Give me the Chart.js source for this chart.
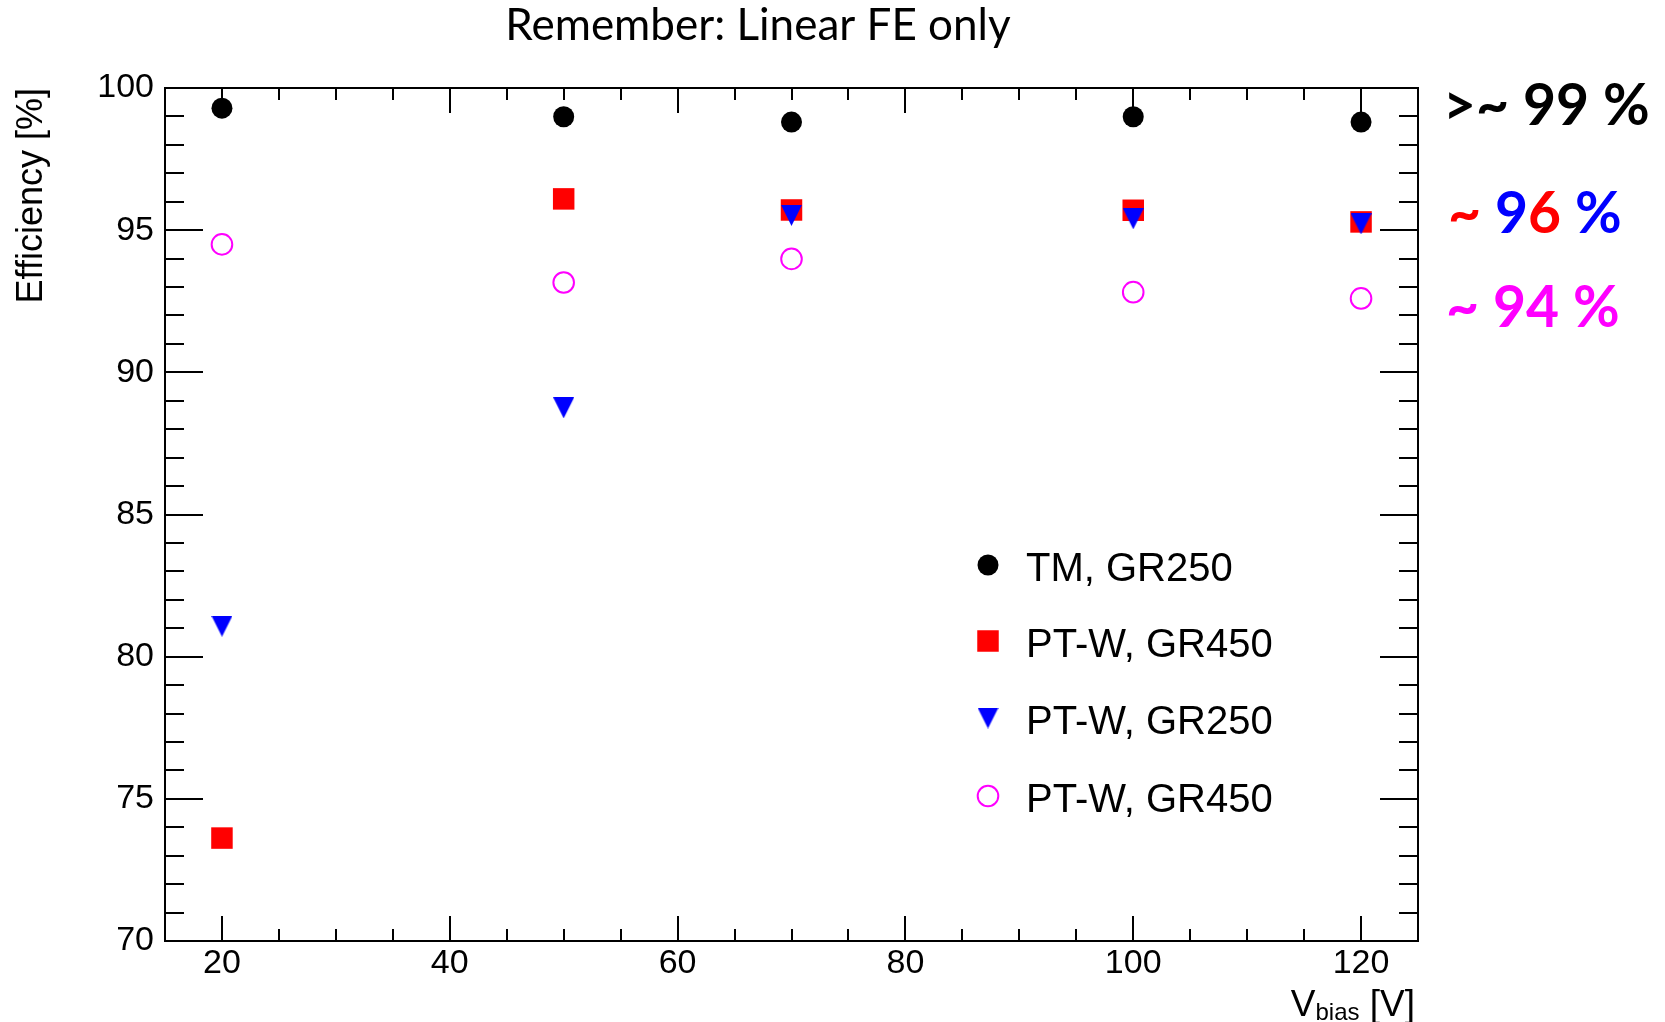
<!DOCTYPE html>
<html>
<head>
<meta charset="utf-8">
<title>Efficiency vs Vbias</title>
<script src="https://cdn.jsdelivr.net/npm/chart.js@4.4.1/dist/chart.umd.min.js"></script>
<style>
  html, body { margin: 0; padding: 0; background: #fff; }
  #wrap { width: 1665px; height: 1022px; }
</style>
</head>
<body>
<div id="wrap"><canvas id="chart" width="1665" height="1022"></canvas></div>
<script>
// bias voltage [V]
const vbias = [20, 50, 70, 100, 120];

// efficiency [%] per sample
const effTmGr250 = [99.29, 98.99, 98.80, 98.99, 98.80];
const effPtwGr450 = [73.62, 96.10, 95.71, 95.70, 95.29];
const effPtwGr250 = [81.07, 88.75, 95.52, 95.40, 95.22];
const effPtwGr450open = [94.50, 93.16, 93.99, 92.82, 92.60];

const seriesLabels = ['TM, GR250', 'PT-W, GR450', 'PT-W, GR250', 'PT-W, GR450'];

const xTickLabels = [20, 40, 60, 80, 100, 120];
const yTickLabels = [70, 75, 80, 85, 90, 95, 100];

const SANS = '"Liberation Sans", Arial, Helvetica, sans-serif';

// ROOT style "triangle down" marker, centred on its bounding box
function makeTriangleDown(size, color) {
  const c = document.createElement('canvas');
  c.width = size;
  c.height = size;
  const g = c.getContext('2d');
  g.fillStyle = color;
  g.beginPath();
  g.moveTo(0, 0);
  g.lineTo(size, 0);
  g.lineTo(size / 2, size);
  g.closePath();
  g.fill();
  return c;
}

const toPoints = (ys) => ys.map((y, i) => ({ x: vbias[i], y }));

// frame + inward ROOT-like ticks on all four sides
const frameAndTicks = {
  id: 'frameAndTicks',
  beforeDatasetsDraw(chart) {
    const { ctx, chartArea: a, scales: { x, y } } = chart;
    ctx.save();
    ctx.strokeStyle = '#000';
    ctx.lineWidth = 2;
    ctx.beginPath();
    for (let v = 15; v <= 125; v += 5) {
      const px = Math.round(x.getPixelForValue(v));
      const len = v % 20 === 0 ? 25 : 12;
      ctx.moveTo(px, a.bottom);
      ctx.lineTo(px, a.bottom - len);
      ctx.moveTo(px, a.top);
      ctx.lineTo(px, a.top + len);
    }
    for (let v = 70; v <= 100; v += 1) {
      const py = Math.round(y.getPixelForValue(v));
      const len = v % 5 === 0 ? 38 : 19;
      ctx.moveTo(a.left, py);
      ctx.lineTo(a.left + len, py);
      ctx.moveTo(a.right, py);
      ctx.lineTo(a.right - len, py);
    }
    ctx.stroke();
    ctx.strokeRect(a.left, a.top, a.right - a.left, a.bottom - a.top);
    ctx.restore();
  }
};

// titles, legend, side notes
const textLayer = {
  id: 'textLayer',
  afterDraw(chart) {
    const { ctx, chartArea: a } = chart;
    ctx.save();
    ctx.fillStyle = '#000';

    // slide title
    ctx.font = '44px Lato, "Open Sans", sans-serif';
    ctx.textAlign = 'center';
    ctx.textBaseline = 'alphabetic';
    ctx.fillText('Remember: Linear FE only', 758, 40);

    // y title
    ctx.save();
    ctx.translate(42, a.top);
    ctx.rotate(-Math.PI / 2);
    ctx.font = '36px ' + SANS;
    ctx.textAlign = 'right';
    ctx.fillText('Efficiency [%]', 0, 0);
    ctx.restore();

    // x title: V_bias [V]
    ctx.textAlign = 'left';
    const mainF = '37px ' + SANS, subF = '24px ' + SANS;
    ctx.font = mainF;
    const wV = ctx.measureText('V').width;
    const wUnit = ctx.measureText(' [V]').width;
    ctx.font = subF;
    const wSub = ctx.measureText('bias').width;
    let xt = a.right - 3 - (wV + wSub + wUnit);
    ctx.font = mainF;
    ctx.fillText('V', xt, 1016);
    xt += wV;
    ctx.font = subF;
    ctx.fillText('bias', xt, 1020);
    xt += wSub;
    ctx.font = mainF;
    ctx.fillText(' [V]', xt, 1016);

    // legend
    const lx = 988, ly = [565, 641, 718, 796];
    chart.data.datasets.forEach((ds, i) => {
      ctx.fillStyle = ds.backgroundColor;
      ctx.strokeStyle = ds.borderColor;
      ctx.lineWidth = ds.borderWidth;
      Chart.helpers.drawPoint(ctx, {
        pointStyle: ds.pointStyle,
        radius: ds.pointRadius,
        rotation: 0,
        borderWidth: ds.borderWidth
      }, lx, ly[i]);
      ctx.fillStyle = '#000';
      ctx.font = '40px ' + SANS;
      ctx.fillText(seriesLabels[i], 1026, ly[i] + 16);
    });

    // side notes
    ctx.font = 'bold 57px Lato, "Open Sans", sans-serif';
    const notes = [
      { x: 1443, y: 125, parts: [['>~ 99 %', '#000000']] },
      { x: 1448, y: 233, parts: [['~ ', '#ff0000'], ['9', '#0000ff'], ['6', '#ff0000'], [' %', '#0000ff']] },
      { x: 1446, y: 327, parts: [['~ 94 %', '#ff00ff']] }
    ];
    notes.forEach(n => {
      let nx = n.x;
      n.parts.forEach(([t, c]) => {
        ctx.fillStyle = c;
        ctx.fillText(t, nx, n.y);
        nx += ctx.measureText(t).width;
      });
    });
    ctx.restore();
  }
};

const tickFont = { family: SANS, size: 34, lineHeight: 1 };

new Chart(document.getElementById('chart'), {
  type: 'scatter',
  data: {
    datasets: [
      {
        label: seriesLabels[0],
        data: toPoints(effTmGr250),
        pointStyle: 'circle',
        pointRadius: 10.5,
        backgroundColor: '#000000',
        borderColor: '#000000',
        borderWidth: 0,
        order: 3
      },
      {
        label: seriesLabels[1],
        data: toPoints(effPtwGr450),
        pointStyle: 'rect',
        pointRadius: 15.2,
        backgroundColor: '#ff0000',
        borderColor: '#ff0000',
        borderWidth: 0,
        order: 2
      },
      {
        label: seriesLabels[2],
        data: toPoints(effPtwGr250),
        pointStyle: makeTriangleDown(21, '#0000ff'),
        pointRadius: 11,
        backgroundColor: '#0000ff',
        borderColor: '#0000ff',
        borderWidth: 0,
        order: 1
      },
      {
        label: seriesLabels[3],
        data: toPoints(effPtwGr450open),
        pointStyle: 'circle',
        pointRadius: 10.3,
        backgroundColor: 'rgba(0,0,0,0)',
        borderColor: '#ff00ff',
        borderWidth: 2,
        order: 0
      }
    ]
  },
  options: {
    responsive: false,
    animation: false,
    layout: { padding: { top: 88, right: 247, left: 0, bottom: 0 } },
    plugins: {
      legend: { display: false },
      tooltip: { enabled: false },
      title: { display: false }
    },
    scales: {
      x: {
        type: 'linear',
        min: 15,
        max: 125,
        grid: { display: false },
        border: { display: false },
        afterBuildTicks: (s) => { s.ticks = xTickLabels.map(v => ({ value: v })); },
        afterFit: (s) => { s.height = 81; },
        ticks: { color: '#000', font: tickFont, padding: -2, maxRotation: 0 }
      },
      y: {
        type: 'linear',
        min: 70,
        max: 100,
        grid: { display: false },
        border: { display: false },
        afterBuildTicks: (s) => { s.ticks = yTickLabels.map(v => ({ value: v })); },
        afterFit: (s) => { s.width = 165; },
        ticks: { color: '#000', font: tickFont, padding: 3 }
      }
    }
  },
  plugins: [frameAndTicks, textLayer]
});
</script>
</body>
</html>
